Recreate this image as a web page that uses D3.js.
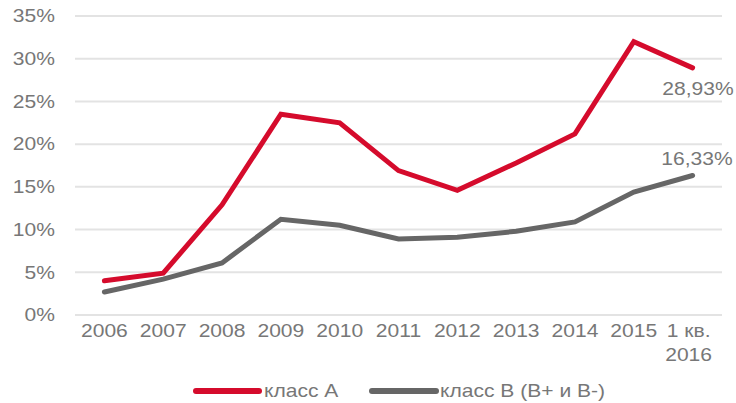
<!DOCTYPE html>
<html><head><meta charset="utf-8">
<script src="https://cdn.jsdelivr.net/npm/d3@7"></script>
<style>
body{margin:0;background:#fff;}
text{font-family:"Liberation Sans",Arial,sans-serif;}
</style></head>
<body>
<svg id="c" width="736" height="403"></svg>
<script>
const categories = ["2006","2007","2008","2009","2010","2011","2012","2013","2014","2015","1 кв.|2016"];
const classA = [4.0,4.9,12.9,23.5,22.5,16.9,14.6,17.8,21.2,32.0,28.93];
const classB = [2.7,4.2,6.1,11.2,10.5,8.9,9.1,9.8,10.9,14.4,16.33];
const yTicks = [0,5,10,15,20,25,30,35];
const seriesNames = ["класс А","класс В (В+ и В-)"];
const lastLabels = ["28,93%","16,33%"];

(function(){
const svg = d3.select("#c");
const mLeft = 75, mRight = 722, mTop = 16, mBottom = 315;
const SX = 1.17, FS = 18, TC = "#777";
const x = d3.scaleBand().domain(categories).range([mLeft, mRight]);
const y = d3.scaleLinear().domain([0,35]).range([mBottom, mTop]);
const cx = d => x(d) + x.bandwidth()/2;

function label(g, px, py, txt, anchor) {
  return g.append("text")
    .attr("transform", `translate(${px},${py}) scale(${SX},1)`)
    .attr("text-anchor", anchor).attr("dy", "0.35em")
    .attr("font-size", FS).attr("fill", TC).text(txt);
}

// gridlines
svg.append("g").selectAll("line").data(yTicks).join("line")
  .attr("x1", mLeft).attr("x2", mRight)
  .attr("y1", d => y(d)).attr("y2", d => y(d))
  .attr("stroke", "#e3e3e3").attr("stroke-width", 2);

// y labels
const gy = svg.append("g");
yTicks.forEach(t => label(gy, 55, y(t), t + "%", "end"));

// x labels
const gx = svg.append("g");
categories.forEach(c => {
  const parts = c.split("|");
  const off = parts.length > 1 ? -4 : 0;
  parts.forEach((p, i) => label(gx, cx(c) + off, 331 + i * 24, p, "middle"));
});

const line = d3.line().x((d,i) => cx(categories[i])).y(d => y(d));
const colors = ["#d50b2c", "#666666"];
[classA, classB].forEach((s, k) => {
  svg.append("path").datum(s).attr("d", line)
    .attr("fill", "none").attr("stroke", colors[k]).attr("stroke-width", 5)
    .attr("stroke-linejoin", "miter").attr("stroke-linecap", "round");
});

// end labels
label(svg, 698, y(classA[10]) + 21, lastLabels[0], "middle");
label(svg, 697, y(classB[10]) - 17, lastLabels[1], "middle");

// legend
const leg = [{x1:196,x2:259,tx:264},{x1:372,x2:436,tx:440}];
leg.forEach((l,k) => {
  svg.append("line").attr("x1",l.x1).attr("x2",l.x2).attr("y1",391).attr("y2",391)
    .attr("stroke",colors[k]).attr("stroke-width",6).attr("stroke-linecap","round");
  label(svg, l.tx, 391, seriesNames[k], "start");
});
})();
</script>
</body></html>
